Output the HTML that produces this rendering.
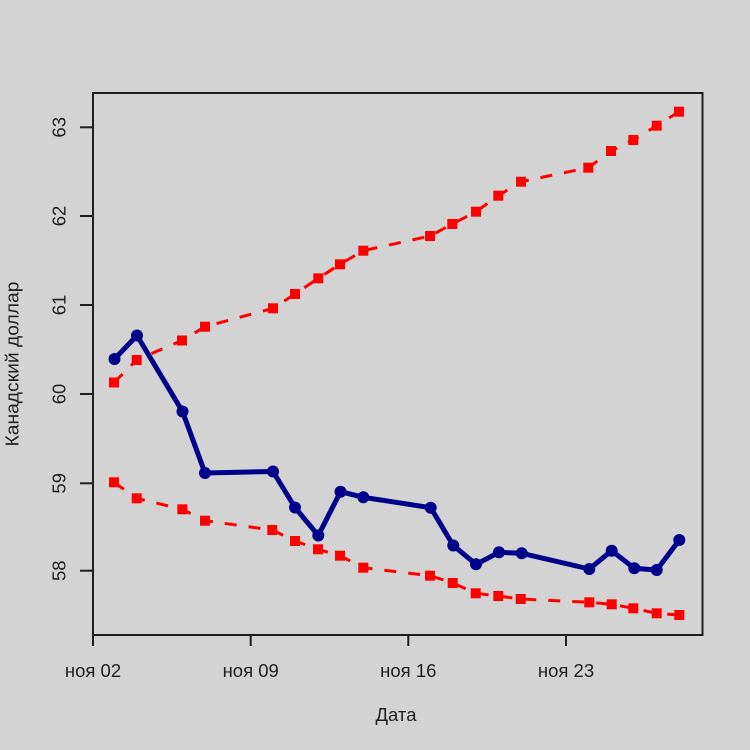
<!DOCTYPE html>
<html><head><meta charset="utf-8"><style>
html,body{margin:0;padding:0;background:#d3d3d3;}
svg{display:block;}
text{font-family:"Liberation Sans","DejaVu Sans",sans-serif;fill:#1e1e1e;}
</style></head><body>
<svg width="750" height="750" viewBox="0 0 750 750" xmlns="http://www.w3.org/2000/svg">
<rect x="0" y="0" width="750" height="750" fill="#d3d3d3"/>
<!-- red upper -->
<polyline fill="none" stroke="#ff0000" stroke-width="3" stroke-dasharray="12,12" points="114,382.5 136.7,360 182,340.5 205,326.7 273,308.3 295,294 318.3,278.3 340,264.3 363.3,250.7 430,236 452.3,224 476,211.7 498.3,195.7 521,181.7 588.3,167.7 611,151 633.3,140 656.7,125.7 679,111.7"/>
<g fill="#ff0000">
<rect x="109" y="377.5" width="10" height="10"/><rect x="131.7" y="355" width="10" height="10"/><rect x="177" y="335.5" width="10" height="10"/><rect x="200" y="321.7" width="10" height="10"/><rect x="268" y="303.3" width="10" height="10"/><rect x="290" y="289" width="10" height="10"/><rect x="313.3" y="273.3" width="10" height="10"/><rect x="335" y="259.3" width="10" height="10"/><rect x="358.3" y="245.7" width="10" height="10"/><rect x="425" y="231" width="10" height="10"/><rect x="447.3" y="219" width="10" height="10"/><rect x="471" y="206.7" width="10" height="10"/><rect x="493.3" y="190.7" width="10" height="10"/><rect x="516" y="176.7" width="10" height="10"/><rect x="583.3" y="162.7" width="10" height="10"/><rect x="606" y="146" width="10" height="10"/><rect x="628.3" y="135" width="10" height="10"/><rect x="651.7" y="120.7" width="10" height="10"/><rect x="674" y="106.7" width="10" height="10"/>
</g>
<!-- red lower -->
<polyline fill="none" stroke="#ff0000" stroke-width="3" stroke-dasharray="12,12" points="114,482.3 136.7,498.3 182.3,509.3 205,520.7 272.3,530 295,541 318,549.3 340,555.7 363.3,567.7 430,575.7 452.7,583 475.7,593.3 498.3,596 520.7,599 589.3,602.3 611.7,604.3 633.3,608.3 656.7,613.3 679.3,615"/>
<g fill="#ff0000">
<rect x="109" y="477.3" width="10" height="10"/><rect x="131.7" y="493.3" width="10" height="10"/><rect x="177.3" y="504.3" width="10" height="10"/><rect x="200" y="515.7" width="10" height="10"/><rect x="267.3" y="525" width="10" height="10"/><rect x="290" y="536" width="10" height="10"/><rect x="313" y="544.3" width="10" height="10"/><rect x="335" y="550.7" width="10" height="10"/><rect x="358.3" y="562.7" width="10" height="10"/><rect x="425" y="570.7" width="10" height="10"/><rect x="447.7" y="578" width="10" height="10"/><rect x="470.7" y="588.3" width="10" height="10"/><rect x="493.3" y="591" width="10" height="10"/><rect x="515.7" y="594" width="10" height="10"/><rect x="584.3" y="597.3" width="10" height="10"/><rect x="606.7" y="599.3" width="10" height="10"/><rect x="628.3" y="603.3" width="10" height="10"/><rect x="651.7" y="608.3" width="10" height="10"/><rect x="674.3" y="610" width="10" height="10"/>
</g>
<!-- blue -->
<polyline fill="none" stroke="#00008b" stroke-width="5" stroke-linejoin="round" points="114.5,359 137,335.5 182.5,411.5 205,473 273,471.5 295,507.5 318.3,535.5 340.5,491.7 363.3,497.3 430.7,507.7 453.3,545.5 476,564.3 499,552.3 521.7,553.3 589.3,569 611.7,550.7 634.3,568.3 656.7,570 679.3,540"/>
<g fill="#00008b">
<circle cx="114.5" cy="359" r="6"/><circle cx="137" cy="335.5" r="6"/><circle cx="182.5" cy="411.5" r="6"/><circle cx="205" cy="473" r="6"/><circle cx="273" cy="471.5" r="6"/><circle cx="295" cy="507.5" r="6"/><circle cx="318.3" cy="535.5" r="6"/><circle cx="340.5" cy="491.7" r="6"/><circle cx="363.3" cy="497.3" r="6"/><circle cx="430.7" cy="507.7" r="6"/><circle cx="453.3" cy="545.5" r="6"/><circle cx="476" cy="564.3" r="6"/><circle cx="499" cy="552.3" r="6"/><circle cx="521.7" cy="553.3" r="6"/><circle cx="589.3" cy="569" r="6"/><circle cx="611.7" cy="550.7" r="6"/><circle cx="634.3" cy="568.3" r="6"/><circle cx="656.7" cy="570" r="6"/><circle cx="679.3" cy="540" r="6"/>
</g>
<!-- box -->
<rect x="93" y="93" width="609.5" height="542" fill="none" stroke="#1e1e1e" stroke-width="2"/>
<!-- ticks -->
<g stroke="#1e1e1e" stroke-width="2">
<line x1="80" y1="127.3" x2="93" y2="127.3"/><line x1="80" y1="216" x2="93" y2="216"/><line x1="80" y1="305" x2="93" y2="305"/><line x1="80" y1="394" x2="93" y2="394"/><line x1="80" y1="483.3" x2="93" y2="483.3"/><line x1="80" y1="570.7" x2="93" y2="570.7"/>
<line x1="93" y1="635" x2="93" y2="646"/><line x1="250.7" y1="635" x2="250.7" y2="646"/><line x1="408.3" y1="635" x2="408.3" y2="646"/><line x1="566" y1="635" x2="566" y2="646"/>
</g>
<g font-size="18.5" text-anchor="middle">
<text transform="translate(65.5,127.3) rotate(-90)">63</text>
<text transform="translate(65.5,216) rotate(-90)">62</text>
<text transform="translate(65.5,305) rotate(-90)">61</text>
<text transform="translate(65.5,394) rotate(-90)">60</text>
<text transform="translate(65.5,483.3) rotate(-90)">59</text>
<text transform="translate(65.5,570.7) rotate(-90)">58</text>
<text x="93" y="677">ноя 02</text>
<text x="250.7" y="677">ноя 09</text>
<text x="408.3" y="677">ноя 16</text>
<text x="566" y="677">ноя 23</text>
<text x="396" y="721">Дата</text>
<text transform="translate(18.5,364) rotate(-90)" textLength="165" lengthAdjust="spacingAndGlyphs">Канадский доллар</text>
</g>
</svg>
</body></html>
